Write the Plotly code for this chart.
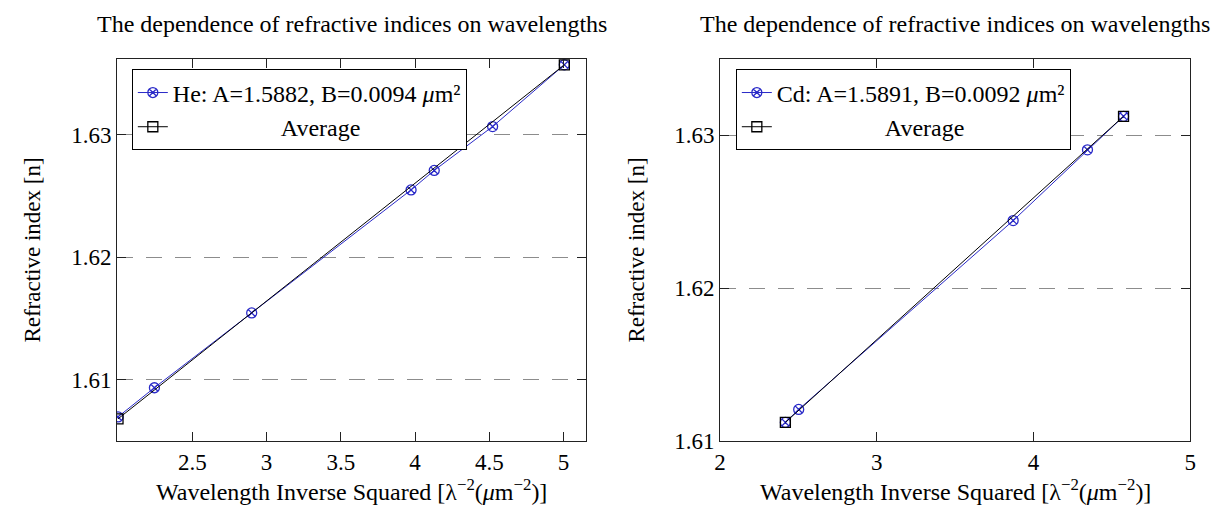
import plotly.graph_objects as go

# ---- data ----
he_x = [2.000, 2.245, 2.900, 3.973, 4.129, 4.522, 5.005]
he_y = [1.60696, 1.60934, 1.61545, 1.62549, 1.62708, 1.63066, 1.63570]
he_avg_x = [2.000, 5.005]
he_avg_y = [1.60680, 1.63570]

cd_x = [2.417, 2.502, 3.870, 4.344, 4.574]
cd_y = [1.61121, 1.61206, 1.62441, 1.62904, 1.63123]
cd_avg_x = [2.417, 4.574]
cd_avg_y = [1.61121, 1.63123]

left_xticks = [2.5, 3, 3.5, 4, 4.5, 5]
left_xlabels = ["2.5", "3", "3.5", "4", "4.5", "5"]
right_xticks = [2, 3, 4, 5]
right_xlabels = ["2", "3", "4", "5"]
left_yticks = [1.61, 1.62, 1.63]
right_yticks = [1.61, 1.62, 1.63]
y_labels = ["1.61", "1.62", "1.63"]

he_name = "He: A=1.5882, B=0.0094 <i>μ</i>m²"
cd_name = "Cd: A=1.5891, B=0.0092 <i>μ</i>m²"
avg_name = "\u00a0" * 18 + "Average"
title_text = "The dependence of refractive indices on wavelengths"
xtitle = "Wavelength Inverse Squared [λ<sup>−2</sup>(<i>μ</i>m<sup>−2</sup>)]"
ytitle = "Refractive index [n]"

W, H = 1221, 520
FONT = "Liberation Serif, Times New Roman, serif"
BLUE = "#2a2ac8"

fig = go.Figure()

fig.add_trace(go.Scatter(x=he_x, y=he_y, mode="lines+markers", name=he_name,
                         line=dict(color=BLUE, width=1),
                         marker=dict(symbol="circle-x-open", size=10, color=BLUE, line=dict(width=1.3)),
                         xaxis="x", yaxis="y", legend="legend"))
fig.add_trace(go.Scatter(x=he_avg_x, y=he_avg_y, mode="lines+markers", name=avg_name,
                         line=dict(color="black", width=1),
                         marker=dict(symbol="square-open", size=10, color="black", line=dict(width=1.3)),
                         xaxis="x", yaxis="y", legend="legend"))
fig.add_trace(go.Scatter(x=cd_x, y=cd_y, mode="lines+markers", name=cd_name,
                         line=dict(color=BLUE, width=1),
                         marker=dict(symbol="circle-x-open", size=10, color=BLUE, line=dict(width=1.3)),
                         xaxis="x2", yaxis="y2", legend="legend2"))
fig.add_trace(go.Scatter(x=cd_avg_x, y=cd_avg_y, mode="lines+markers", name=avg_name,
                         line=dict(color="black", width=1),
                         marker=dict(symbol="square-open", size=10, color="black", line=dict(width=1.3)),
                         xaxis="x2", yaxis="y2", legend="legend2"))

def px_x(p):
    return p / W

def px_y(p):
    return (H - p) / H

L1, R1 = 104, 578
L2, R2 = 713, 1188
TOP, BOT = 52, 444

axis_common = dict(showline=True, linecolor="#222", linewidth=1, mirror="ticks",
                   ticks="inside", ticklen=9, tickcolor="#222", tickwidth=1,
                   tickfont=dict(family=FONT, size=23, color="black"), zeroline=False)

fig.update_layout(
    width=W, height=H,
    margin=dict(l=0, r=0, t=0, b=0),
    paper_bgcolor="white", plot_bgcolor="white",
    font=dict(family=FONT, size=23, color="black"),
    xaxis=dict(domain=[px_x(L1), px_x(R1)], range=[1.993, 5.153], anchor="y",
               tickvals=left_xticks, ticktext=left_xlabels, showgrid=False, **axis_common),
    yaxis=dict(domain=[px_y(BOT), px_y(TOP)], range=[1.6050, 1.6362], anchor="x",
               tickvals=left_yticks, ticktext=y_labels, showgrid=True, gridcolor="#8c8c8c",
               griddash="16px,13px", gridwidth=1, **axis_common),
    xaxis2=dict(domain=[px_x(L2), px_x(R2)], range=[2, 5], anchor="y2",
                tickvals=right_xticks, ticktext=right_xlabels, showgrid=False, **axis_common),
    yaxis2=dict(domain=[px_y(BOT), px_y(TOP)], range=[1.61, 1.635], anchor="x2",
                tickvals=right_yticks, ticktext=y_labels, showgrid=True, gridcolor="#8c8c8c",
                griddash="16px,13px", gridwidth=1, **axis_common),
    legend=dict(x=px_x(119), y=px_y(63), xanchor="left", yanchor="top",
                bgcolor="white", bordercolor="black", borderwidth=1,
                font=dict(family=FONT, size=24, color="black")),
    legend2=dict(x=px_x(729), y=px_y(63), xanchor="left", yanchor="top",
                 bgcolor="white", bordercolor="black", borderwidth=1,
                 font=dict(family=FONT, size=24, color="black")),
    showlegend=True,
)

annotations = []
for cx in [(L1 + R1) / 2, (L2 + R2) / 2]:
    annotations.append(dict(text=title_text, x=px_x(cx), y=px_y(16), xref="paper", yref="paper",
                            showarrow=False, xanchor="center", yanchor="middle",
                            font=dict(family=FONT, size=24, color="black")))
    annotations.append(dict(text=xtitle, x=px_x(cx), y=px_y(494), xref="paper", yref="paper",
                            showarrow=False, xanchor="center", yanchor="middle",
                            font=dict(family=FONT, size=24, color="black")))
for cx in [19, 629]:
    annotations.append(dict(text=ytitle, x=px_x(cx), y=px_y((TOP + BOT) / 2), xref="paper", yref="paper",
                            showarrow=False, xanchor="center", yanchor="middle", textangle=-90,
                            font=dict(family=FONT, size=23, color="black")))
fig.update_layout(annotations=annotations)

fig.write_html("out.html")
